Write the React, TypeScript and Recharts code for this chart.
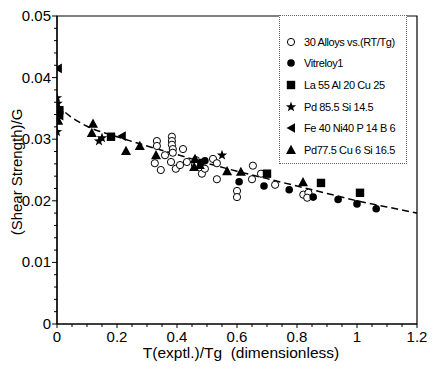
import {
  ComposedChart,
  Scatter,
  Line,
  XAxis,
  YAxis,
  Legend,
  ReferenceArea,
  Label,
} from "recharts";

// Values: [T/Tg, shearStrength/G]
const alloys30: [number, number][] = [
  [0.333, 0.0297], [0.333, 0.0289], [0.326, 0.0261], [0.346, 0.025],
  [0.383, 0.0304], [0.383, 0.0297], [0.383, 0.0291], [0.386, 0.0284],
  [0.386, 0.0278], [0.38, 0.0263], [0.396, 0.0252], [0.41, 0.0258],
  [0.42, 0.0284], [0.433, 0.0263], [0.36, 0.0274], [0.463, 0.0266],
  [0.46, 0.0258], [0.483, 0.0244], [0.493, 0.0252], [0.52, 0.0268],
  [0.533, 0.0261], [0.533, 0.0235], [0.6, 0.0216], [0.6, 0.0206],
  [0.653, 0.0257], [0.68, 0.0244], [0.65, 0.0235], [0.727, 0.0226],
  [0.821, 0.021], [0.838, 0.0213], [0.834, 0.0205],
];
const vitreloy1: [number, number][] = [
  [0.48, 0.0262], [0.493, 0.0265], [0.607, 0.0231], [0.69, 0.0224],
  [0.774, 0.0218], [0.854, 0.0206], [0.937, 0.0202], [1.0, 0.0195],
  [1.064, 0.0187],
];
const la55: [number, number][] = [
  [0.008, 0.0347], [0.18, 0.0304], [0.7, 0.0244], [0.88, 0.0229], [1.01, 0.0213],
];
const pd855: [number, number][] = [
  [0.0, 0.0367], [0.002, 0.0358], [0.004, 0.0345], [0.003, 0.0333],
  [0.0, 0.0312], [0.14, 0.0297], [0.15, 0.0302], [0.55, 0.0274],
];
const fe40: [number, number][] = [
  [0.003, 0.0415], [0.008, 0.0338], [0.216, 0.0305],
];
const pd775: [number, number][] = [
  [0.004, 0.033], [0.12, 0.0325], [0.116, 0.031], [0.23, 0.0281],
  [0.276, 0.0289], [0.33, 0.0274], [0.46, 0.0268], [0.457, 0.0255],
  [0.476, 0.0258], [0.567, 0.0248], [0.613, 0.0247], [0.82, 0.023],
];
// dashed trend line, read at regular steps
const fitLine: [number, number][] = [
  [0, 0.0355], [0.05, 0.0335], [0.1, 0.0321], [0.2, 0.0304], [0.3, 0.0289],
  [0.4, 0.0275], [0.5, 0.0261], [0.6, 0.0248], [0.7, 0.0236], [0.8, 0.0224],
  [0.9, 0.0212], [1.0, 0.02], [1.1, 0.019], [1.2, 0.018],
];

const xTicks = [
  0, 0.05, 0.1, 0.15, 0.2, 0.25, 0.3, 0.35, 0.4, 0.45, 0.5, 0.55, 0.6,
  0.65, 0.7, 0.75, 0.8, 0.85, 0.9, 0.95, 1, 1.05, 1.1, 1.15, 1.2,
];
const xLabels = ["0", "0.2", "0.4", "0.6", "0.8", "1", "1.2"];
const yTicks = [
  0, 0.002, 0.004, 0.006, 0.008, 0.01, 0.012, 0.014, 0.016, 0.018, 0.02,
  0.022, 0.024, 0.026, 0.028, 0.03, 0.032, 0.034, 0.036, 0.038, 0.04,
  0.042, 0.044, 0.046, 0.048, 0.05,
];
const yLabels = ["0", "0.01", "0.02", "0.03", "0.04", "0.05"];

const FONT = "'Liberation Sans', Arial, Helvetica, sans-serif";

const toPoints = (arr: [number, number][]) => arr.map(([x, y]) => ({ x, y }));

// marker shapes, shared by the plot and the legend
type ShapeProps = { cx?: number; cy?: number };

const OpenCircle = ({ cx = 0, cy = 0 }: ShapeProps) => (
  <circle cx={cx} cy={cy} r={3.6} fill="#fff" stroke="#000" strokeWidth={1} />
);
const FilledCircle = ({ cx = 0, cy = 0 }: ShapeProps) => (
  <circle cx={cx} cy={cy} r={3.8} fill="#000" />
);
const FilledSquare = ({ cx = 0, cy = 0 }: ShapeProps) => (
  <rect x={cx - 4.2} y={cy - 4.2} width={8.4} height={8.4} fill="#000" />
);
const Star = ({ cx = 0, cy = 0 }: ShapeProps) => {
  const pts: string[] = [];
  for (let i = 0; i < 10; i++) {
    const r = i % 2 === 0 ? 5.4 : 2.2;
    const a = -Math.PI / 2 + (i * Math.PI) / 5;
    pts.push(`${cx + r * Math.cos(a)},${cy + r * Math.sin(a)}`);
  }
  return <polygon points={pts.join(" ")} fill="#000" />;
};
const LeftTriangle = ({ cx = 0, cy = 0 }: ShapeProps) => (
  <polygon
    points={`${cx - 4.5},${cy} ${cx + 4},${cy - 4.8} ${cx + 4},${cy + 4.8}`}
    fill="#000"
  />
);
const UpTriangle = ({ cx = 0, cy = 0 }: ShapeProps) => (
  <polygon
    points={`${cx},${cy - 5.2} ${cx + 5},${cy + 4} ${cx - 5},${cy + 4}`}
    fill="#000"
  />
);

const series = [
  { name: "30 Alloys vs.(RT/Tg)", data: alloys30, Shape: OpenCircle },
  { name: "Vitreloy1", data: vitreloy1, Shape: FilledCircle },
  { name: "La 55 Al 20 Cu 25", data: la55, Shape: FilledSquare },
  { name: "Pd 85.5 Si 14.5", data: pd855, Shape: Star },
  { name: "Fe 40 Ni40 P 14 B 6", data: fe40, Shape: LeftTriangle },
  { name: "Pd77.5 Cu 6 Si 16.5", data: pd775, Shape: UpTriangle },
];

const isMajorX = (v: number) => Math.abs(v * 5 - Math.round(v * 5)) < 1e-6;
const isMajorY = (v: number) => Math.abs(v * 100 - Math.round(v * 100)) < 1e-6;

function XTick({ x, y, payload }: any) {
  const v = payload.value as number;
  const major = isMajorX(v);
  return (
    <g>
      <line x1={x} x2={x} y1={y} y2={y + (major ? 4 : 3)} stroke="#000" />
      {major && (
        <text x={x} y={y + 18} textAnchor="middle" fontSize={15} fontFamily={FONT} fill="#000">
          {xLabels[Math.round(v * 5)]}
        </text>
      )}
    </g>
  );
}

function YTick({ x, y, payload }: any) {
  const v = payload.value as number;
  const major = isMajorY(v);
  return (
    <g>
      <line x1={x} x2={x - (major ? 5 : 3)} y1={y} y2={y} stroke="#000" />
      {major && (
        <text x={x - 6} y={y + 5} textAnchor="end" fontSize={15} fontFamily={FONT} fill="#000">
          {yLabels[Math.round(v * 100)]}
        </text>
      )}
    </g>
  );
}

function LegendBox() {
  return (
    <div
      style={{
        width: 128,
        height: 149,
        boxSizing: "border-box",
        border: "1px dotted #666",
        background: "#fff",
        paddingTop: 15,
        fontFamily: FONT,
        fontSize: 11,
        letterSpacing: -0.4,
        color: "#000",
      }}
    >
      {series.map(({ name, Shape }) => (
        <div key={name} style={{ display: "flex", alignItems: "center", height: 21.6 }}>
          <svg width={24} height={14} style={{ flex: "none" }}>
            <Shape cx={11} cy={7} />
          </svg>
          <span style={{ whiteSpace: "nowrap" }}>{name}</span>
        </div>
      ))}
    </div>
  );
}

export default function App() {
  return (
    <div style={{ width: 428, height: 360, background: "#fff" }}>
      <ComposedChart
        width={428}
        height={360}
        margin={{ top: 8, right: 19, left: 0, bottom: 0 }}
      >
        <XAxis
          type="number"
          dataKey="x"
          domain={[0, 1.2]}
          ticks={xTicks}
          interval={0}
          tickSize={0}
          tickMargin={0}
          tick={<XTick />}
          height={44}
          axisLine={{ stroke: "#000", strokeWidth: 1.2 }}
          allowDataOverflow
        >
          <Label
            content={() => (
              <text x={233} y={350} textAnchor="middle" fontSize={15.5} fontFamily={FONT} fill="#000">
                {"T(exptl.)/Tg\u00A0\u00A0(dimensionless)"}
              </text>
            )}
          />
        </XAxis>
        <YAxis
          type="number"
          dataKey="y"
          domain={[0, 0.05]}
          ticks={yTicks}
          interval={0}
          tickSize={0}
          tickMargin={0}
          tick={<YTick />}
          width={49}
          axisLine={{ stroke: "#000", strokeWidth: 1.2 }}
          allowDataOverflow
        >
          <Label
            content={() => (
              <text
                x={8}
                y={164}
                transform="rotate(-90 8 164)"
                textAnchor="middle"
                dominantBaseline="central"
                fontSize={15}
                fontFamily={FONT}
                fill="#000"
              >
                (Shear Strength)/G
              </text>
            )}
          />
        </YAxis>
        <ReferenceArea x1={0} x2={1.2} y1={0} y2={0.05} fill="none" stroke="#000" strokeWidth={1.2} />
        <Line
          data={toPoints(fitLine)}
          dataKey="y"
          type="monotone"
          stroke="#000"
          strokeWidth={1.5}
          strokeDasharray="7 4"
          dot={false}
          activeDot={false}
          isAnimationActive={false}
          legendType="none"
        />
        {series.map(({ name, data, Shape }) => (
          <Scatter
            key={name}
            name={name}
            data={toPoints(data)}
            dataKey="y"
            shape={(p: any) => <Shape cx={p.cx} cy={p.cy} />}
            isAnimationActive={false}
          />
        ))}
        <Legend
          content={<LegendBox />}
          layout="vertical"
          align="center"
          verticalAlign="middle"
          wrapperStyle={{ position: "absolute", left: 271, top: 7, width: 128, height: 149 }}
        />
      </ComposedChart>
    </div>
  );
}
